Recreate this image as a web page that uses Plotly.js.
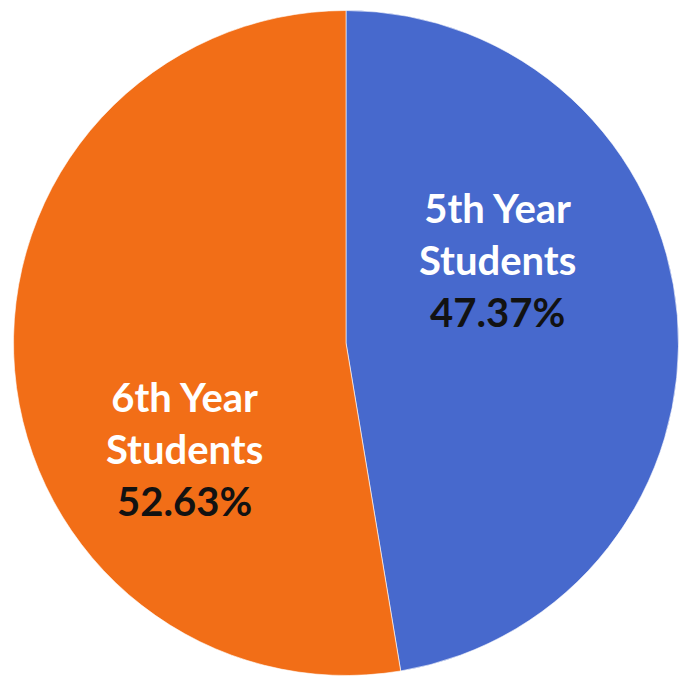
<!DOCTYPE html>
<html>
<head>
<meta charset="utf-8">
<script src="https://cdn.plot.ly/plotly-3.0.1.min.js"></script>
<style>html,body{margin:0;padding:0;background:#fff;}#chart{width:682px;height:680px;}</style>
</head>
<body>
<div id="chart"></div>
<script>
const categories = ["5th Year Students", "6th Year Students"];
const lineOne = ["5th Year", "6th Year"];
const lineTwo = ["Students", "Students"];
const percents = [47.37, 52.63];
const colors = ["#4769cd", "#f26e17"];
// label anchor positions (paper coordinates) for each slice's text
const labelX = [0.729, 0.271];
const labelY = [0.618, 0.340];

const trace = {
  type: "pie",
  labels: categories,
  values: percents,
  textinfo: "none",
  sort: false,
  direction: "clockwise",
  rotation: 0,
  marker: { colors: colors, line: { color: "rgba(255,255,255,0.6)", width: 1 } },
  hoverinfo: "none",
  domain: { x: [13.5/682, 678.5/682], y: [4.5/680, 669.5/680] }
};

const annotations = categories.map((c, i) => ({
  xref: "paper", yref: "paper",
  x: labelX[i], y: labelY[i],
  xanchor: "center", yanchor: "middle",
  showarrow: false,
  align: "center",
  text: "<b>" + lineOne[i] + "<br>" + lineTwo[i] + "</b><br><b><span style='color:#121212'>" +
        percents[i].toFixed(2) + "%</span></b>",
  font: { family: "Lato, 'Open Sans', sans-serif", size: 40, color: "#ffffff" }
}));

const layout = {
  width: 682, height: 680,
  margin: { l: 0, r: 0, t: 0, b: 0 },
  showlegend: false,
  paper_bgcolor: "#ffffff",
  annotations: annotations
};

Plotly.newPlot("chart", [trace], layout, { displayModeBar: false, staticPlot: true });
</script>
</body>
</html>
